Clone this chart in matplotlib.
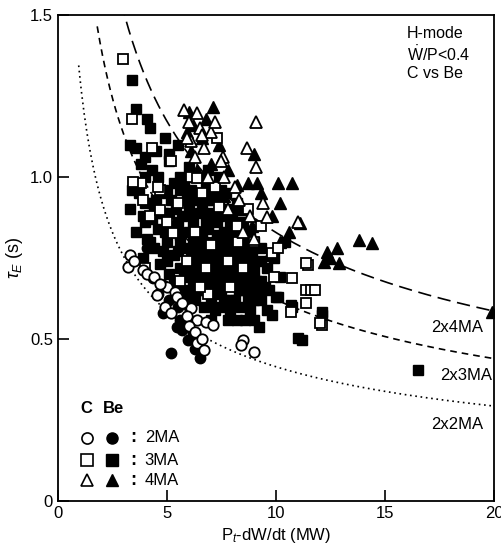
import numpy as np
import matplotlib
matplotlib.use("Agg")
import matplotlib.pyplot as plt

plt.rcParams['font.family'] = ['Liberation Sans', 'DejaVu Sans']
plt.rcParams['mathtext.fontset'] = 'custom'
plt.rcParams['mathtext.rm'] = 'Liberation Sans'
plt.rcParams['mathtext.it'] = 'Liberation Sans:italic'

# Be, 3MA (filled squares)
be3_x = [3.4, 3.6, 4.1, 4.2, 4.9, 3.3, 3.6, 4.0, 5.1, 5.1, 3.8, 4.3, 4.6, 3.4, 3.7, 4.0, 4.5, 5.0, 5.3,
         3.9, 4.3, 4.8, 5.4, 3.6, 4.1, 4.6, 5.2, 5.7, 6.0, 6.3, 5.8, 6.5, 6.8, 7.1, 6.6, 6.2, 5.6, 5.0,
         4.4, 5.3, 5.9, 6.4, 6.9, 7.4, 7.8, 7.3, 6.8, 6.2, 5.6, 5.1, 6.0, 6.6, 7.1, 7.6, 8.1, 8.4, 8.8,
         8.0, 7.5, 6.9, 6.4, 7.2, 7.8, 8.3, 8.9, 9.3, 9.6, 9.1, 8.6, 8.0, 7.5, 8.4, 9.0, 9.24, 10.0,
         10.7, 9.84, 11.0, 12.1, 12.1, 10.75, 10.07, 16.5, 11.2, 9.5, 10.2, 9.9, 10.4, 7.7, 8.2, 6.0,
         5.5, 6.9, 4.7, 3.9, 5.8, 6.7, 5.5, 7.0, 8.6, 3.3, 4.5, 3.45, 4.3, 4.4, 7.0, 7.7, 8.5, 6.3,
         # dense core
         4.0, 5.6, 6.2, 7.4,
         4.8, 5.6, 6.1, 7.0, 7.5,
         5.2, 5.9, 6.4, 6.9, 7.4,
         4.6, 5.1, 6.0, 6.5, 7.0, 7.6, 8.0,
         4.0, 5.5, 6.8, 7.3, 7.9, 8.5,
         4.9, 5.5, 6.0, 6.6, 7.6, 8.1, 8.6,
         4.2, 5.6, 6.2, 6.7, 7.2, 7.8, 8.5, 9.0,
         4.8, 5.5, 6.1, 6.5, 7.0, 7.4, 7.9, 8.4, 8.9,
         5.0, 5.9, 6.5, 6.9, 7.3, 7.7, 8.2, 8.7, 9.3,
         5.8, 6.3, 6.8, 7.2, 7.7, 8.1, 8.6, 9.0,
         5.3, 6.2, 6.6, 7.0, 7.4, 7.9, 8.3, 8.8, 9.3,
         5.9, 6.6, 7.0, 7.5, 8.3, 8.8, 9.2, 9.7,
         6.3, 7.0, 7.6, 8.1, 8.7, 9.3,
         7.2, 7.9, 8.8, 9.6,
         7.8, 8.2, 9.0]
be3_y = [1.30, 1.21, 1.18, 1.15, 1.12, 1.10, 1.09, 1.06, 1.07, 1.05, 1.04, 1.02, 1.00, 0.96, 0.95, 0.92,
         0.93, 0.95, 0.98, 0.88, 0.87, 0.89, 0.90, 0.83, 0.81, 0.84, 0.85, 0.88, 0.92, 0.95, 0.97, 1.00,
         0.97, 0.93, 0.90, 0.86, 0.82, 0.80, 0.78, 0.76, 0.78, 0.80, 0.84, 0.88, 0.90, 0.82, 0.77, 0.74,
         0.72, 0.70, 0.69, 0.71, 0.75, 0.78, 0.82, 0.86, 0.83, 0.74, 0.71, 0.68, 0.65, 0.64, 0.67, 0.70,
         0.74, 0.78, 0.72, 0.68, 0.65, 0.62, 0.60, 0.60, 0.62, 0.537, 0.63, 0.605, 0.574, 0.503, 0.574,
         0.583, 0.60, 0.63, 0.404, 0.497, 0.66, 0.69, 0.75, 0.80, 0.95, 0.92, 1.03, 1.10, 1.02, 0.73,
         0.75, 0.62, 0.60, 0.66, 0.56, 0.56, 0.90, 1.08, 0.98, 0.92, 0.91, 0.72, 0.79, 0.77, 0.68,
         1.00, 1.00, 1.00, 1.00,
         0.96, 0.96, 0.96, 0.96, 0.96,
         0.93, 0.93, 0.93, 0.93, 0.93,
         0.89, 0.89, 0.89, 0.89, 0.89, 0.89, 0.89,
         0.86, 0.86, 0.86, 0.86, 0.86, 0.86,
         0.83, 0.83, 0.83, 0.83, 0.83, 0.83, 0.83,
         0.80, 0.80, 0.80, 0.80, 0.80, 0.80, 0.80, 0.80,
         0.77, 0.77, 0.77, 0.77, 0.77, 0.77, 0.77, 0.77, 0.77,
         0.74, 0.74, 0.74, 0.74, 0.74, 0.74, 0.74, 0.74, 0.74,
         0.71, 0.71, 0.71, 0.71, 0.71, 0.71, 0.71, 0.71,
         0.68, 0.68, 0.68, 0.68, 0.68, 0.68, 0.68, 0.68, 0.68,
         0.65, 0.65, 0.65, 0.65, 0.65, 0.65, 0.65, 0.65,
         0.62, 0.62, 0.62, 0.62, 0.62, 0.62,
         0.59, 0.59, 0.59, 0.59,
         0.56, 0.56, 0.56]

# C, 3MA (open squares)
c3_x = [2.97, 3.39, 4.3, 7.3, 5.2, 4.7, 5.5, 6.1, 6.6, 7.2, 5.0, 6.3, 7.0, 8.2, 8.25, 9.8, 10.07, 11.45,
        10.75, 9.93, 11.4, 11.6, 11.8, 11.4, 12.1, 12.0, 10.7, 11.4, 4.0, 5.6, 6.8, 8.5, 9.0, 7.8, 4.2,
        6.9, 7.9, 8.7, 5.9, 9.3, 4.6, 3.8, 6.36, 7.4, 3.9, 4.67, 3.43, 5.26, 6.5]
c3_y = [1.364, 1.18, 1.09, 1.12, 1.05, 0.96, 0.92, 1.00, 0.95, 0.97, 0.86, 0.83, 0.79, 0.85, 0.80, 0.765,
        0.78, 0.728, 0.688, 0.69, 0.651, 0.651, 0.65, 0.61, 0.543, 0.55, 0.583, 0.734, 0.72, 0.68, 0.72,
        0.72, 0.80, 0.74, 0.88, 0.64, 0.66, 0.90, 0.74, 0.85, 0.97, 0.98, 0.997, 0.907, 0.93, 0.898,
        0.985, 0.827, 0.66]

# C, 4MA (open triangles)
c4_x = [5.77, 6.4, 6.0, 6.5, 7.0, 6.1, 6.7, 7.55, 9.1, 8.65, 9.1, 8.1, 7.6, 7.5, 9.4, 9.6, 11.0, 8.3,
        7.8, 8.8, 6.3, 6.9, 5.9, 7.2, 8.5, 9.0, 6.6]
c4_y = [1.207, 1.197, 1.17, 1.15, 1.14, 1.11, 1.09, 1.06, 1.17, 1.09, 1.03, 0.97, 1.00, 1.05, 0.92, 0.877,
        0.86, 0.93, 0.90, 0.88, 1.06, 1.00, 1.12, 1.17, 0.83, 0.81, 1.13]

# Be, 4MA (filled triangles)
be4_x = [7.1, 6.2, 6.8, 5.9, 6.1, 7.0, 9.0, 8.7, 9.15, 10.1, 10.75, 8.2, 10.2, 11.1, 10.6, 13.8, 14.4,
         12.35, 12.8, 12.2, 12.9, 12.5, 19.9, 6.6, 7.4, 6.4, 7.6, 8.4, 9.3, 9.8, 8.9, 10.2, 9.7, 6.0, 7.8]
be4_y = [1.216, 1.16, 1.18, 1.14, 1.08, 1.04, 1.07, 0.98, 0.98, 0.98, 0.98, 0.975, 0.92, 0.857, 0.83,
         0.805, 0.796, 0.768, 0.78, 0.738, 0.734, 0.75, 0.583, 1.12, 1.10, 1.02, 0.94, 0.90, 0.95, 0.88,
         0.85, 0.80, 0.76, 1.20, 1.02]

# C, 2MA (open circles)
c2_x = [3.3, 3.2, 3.9, 4.1, 5.0, 5.35, 4.53, 5.45, 6.1, 5.9, 6.4, 6.8, 7.1, 6.4, 6.7, 8.47, 8.4, 9.0,
        4.4, 4.7, 5.7, 6.0, 6.3, 4.9, 5.2, 6.6, 3.5]
c2_y = [0.76, 0.722, 0.713, 0.70, 0.66, 0.645, 0.636, 0.63, 0.595, 0.57, 0.56, 0.553, 0.543, 0.488, 0.466,
        0.497, 0.481, 0.46, 0.69, 0.67, 0.61, 0.54, 0.52, 0.60, 0.58, 0.50, 0.74]

# Be, 2MA (filled circles)
be2_x = [4.1, 4.35, 4.8, 4.8, 5.45, 5.95, 5.2, 6.5, 5.7, 6.2, 6.0, 5.1, 5.6, 4.6, 6.3, 5.5]
be2_y = [0.78, 0.688, 0.667, 0.58, 0.537, 0.497, 0.457, 0.441, 0.528, 0.518, 0.60, 0.62, 0.56, 0.64,
         0.47, 0.60]

# scaling curves tau = k * I / sqrt(P)
k_scale = 0.655
curve_I = [2, 3, 4]
curve_p0 = [0.95, 1.8, 2.9]
curve_labels = ["2x2MA", "2x3MA", "2x4MA"]
curve_styles = [(0, (1, 2.2)), (0, (4, 3)), (0, (8, 4))]
label_xy = [(19.5, 0.235), (19.9, 0.386), (19.5, 0.534)]

fig = plt.figure(figsize=(5.02, 5.48), dpi=100)
ax = fig.add_axes([0.1155, 0.0858, 0.8685, 0.887])

for I, p0, ls, lab, (lx, ly) in zip(curve_I, curve_p0, curve_styles, curve_labels, label_xy):
    p = np.linspace(p0, 20, 300)
    ax.plot(p, k_scale * I / np.sqrt(p), color='black', lw=1.2, linestyle=ls)
    ax.text(lx, ly, lab, ha='right', va='center', fontsize=12)

ms = 7.5
ax.plot(be3_x, be3_y, 's', ms=ms, mfc='black', mec='black', mew=1.0)
ax.plot(be4_x, be4_y, '^', ms=ms + 1, mfc='black', mec='black', mew=1.0)
ax.plot(be2_x, be2_y, 'o', ms=ms, mfc='black', mec='black', mew=1.0)
ax.plot(c3_x, c3_y, 's', ms=ms, mfc='white', mec='black', mew=1.3)
ax.plot(c4_x, c4_y, '^', ms=ms + 1, mfc='white', mec='black', mew=1.3)
ax.plot(c2_x, c2_y, 'o', ms=ms, mfc='white', mec='black', mew=1.3)

# legend block
ax.text(0.066, 0.191, "C", transform=ax.transAxes, ha='center', va='center',
        fontsize=12, fontweight='bold')
ax.text(0.128, 0.191, "Be", transform=ax.transAxes, ha='center', va='center',
        fontsize=12, fontweight='bold')
rows = [("o", "2MA", 0.130), ("s", "3MA", 0.084), ("^", "4MA", 0.043)]
for m, lab, yy in rows:
    ax.plot([0.066], [yy], m, transform=ax.transAxes, ms=8, mfc='white', mec='black', mew=1.2)
    ax.plot([0.124], [yy], m, transform=ax.transAxes, ms=8, mfc='black', mec='black')
    ax.text(0.172, yy, ":", transform=ax.transAxes, ha='center', va='center',
            fontsize=13, fontweight='bold')
    ax.text(0.199, yy, lab, transform=ax.transAxes, ha='left', va='center', fontsize=12)

ax.text(16.0, 1.465, "H-mode\n$\\dot{\\mathrm{W}}$/P<0.4\nC vs Be", ha='left', va='top',
        fontsize=11.5, linespacing=1.2)

ax.set_xlim(0, 20)
ax.set_ylim(0, 1.5)
ax.set_xticks([0, 5, 10, 15, 20])
ax.set_xticklabels(["0", "5", "10", "15", "20"])
ax.set_yticks([0, 0.5, 1.0, 1.5])
ax.set_yticklabels(["0", "0.5", "1.0", "1.5"])
ax.tick_params(direction='in', length=8, width=1.2, labelsize=12)
for s in ax.spines.values():
    s.set_linewidth(1.3)
ax.set_xlabel("P$_t$-dW/dt (MW)", fontsize=12, labelpad=4)
ax.set_ylabel(r"$\tau_E$ (s)", fontsize=13)
ax.yaxis.set_label_coords(-0.075, 0.5)

fig.savefig("out.png", dpi=100)
